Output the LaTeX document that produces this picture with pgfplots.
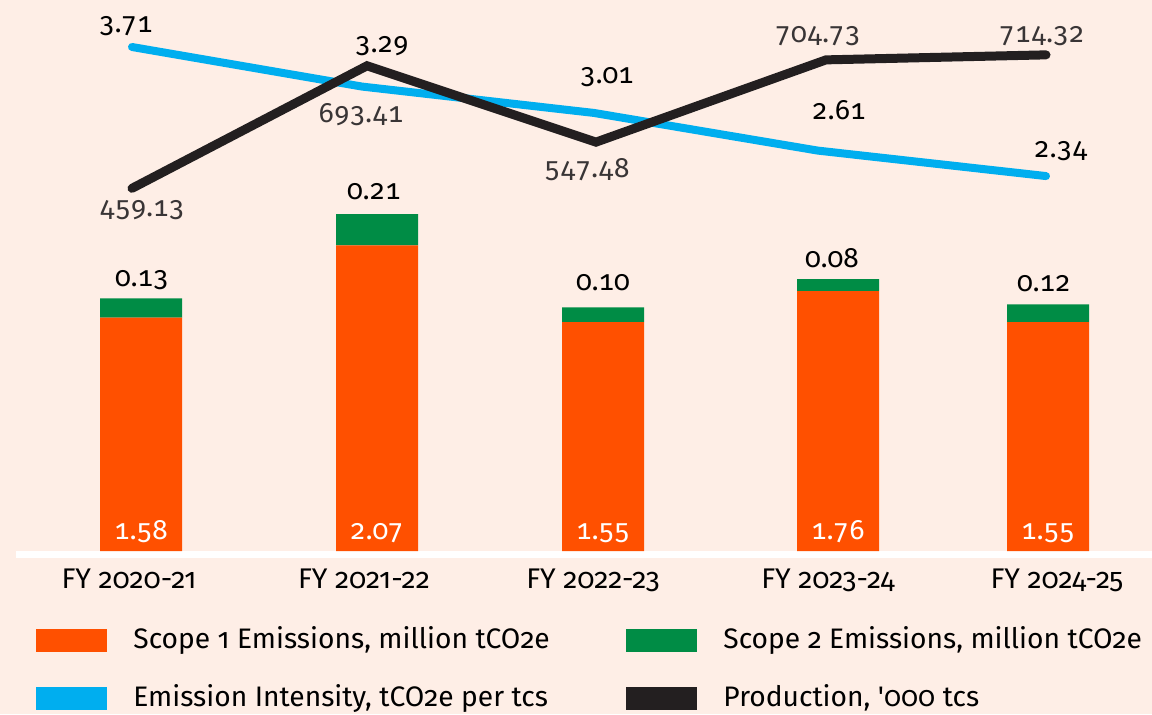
\documentclass[border=0pt]{standalone}
\usepackage{fontspec}
\setmainfont{Fira Sans}[Numbers=OldStyle]
\newfontfamily\tabnum{Fira Sans}[Numbers={OldStyle,Monospaced}]
\usepackage{pgfplots}
\pgfplotsset{compat=1.18}
\definecolor{bg}{HTML}{FEEEE6}
\definecolor{sone}{HTML}{FF5000}
\definecolor{stwo}{HTML}{008C45}
\definecolor{intens}{HTML}{00AEEF}
\definecolor{prod}{HTML}{231F20}
\newcommand\lab[4][black]{\node[anchor=base, text=#1, inner sep=0pt] at ({#2*0.5pt},{(714-#3)*0.5pt}) {#4};}
\pgfplotsset{base/.style={at={(0pt,81.5pt)}, anchor=south west, scale only axis,
  width=576pt, height=275.5pt, xmin=0, xmax=1152, hide axis, clip=false}}
\begin{document}
\begin{tikzpicture}
\useasboundingbox (0,0) rectangle (576pt,357pt);
\fill[bg] (0,0) rectangle (576pt,357pt);
\fill[white] (8pt,78pt) rectangle (576pt,81.5pt);
% bars
\begin{axis}[base, ymin=0, ymax=3.7305, ybar stacked, bar width=41pt]
\addplot[fill=sone, draw=none] coordinates {(141,1.58) (377,2.07) (603,1.55) (838,1.76) (1048,1.55)};
\addplot[fill=stwo, draw=none] coordinates {(141,0.13) (377,0.21) (603,0.10) (838,0.08) (1048,0.12)};
\end{axis}
% emission intensity
\begin{axis}[base, ymin=-1.640, ymax=4.209]
\addplot[intens, line width=4pt, line cap=round, line join=round] coordinates {(132,3.71) (362,3.29) (594,3.01) (818,2.61) (1046,2.34)};
\end{axis}
% production
\begin{axis}[base, ymin=-234.3, ymax=819.2]
\addplot[prod, line width=4.5pt, line cap=round, line join=miter] coordinates {(132,459.13) (367,693.41) (596,547.48) (826,704.73) (1046,714.32)};
\end{axis}
% data labels
\tabnum\fontsize{14pt}{16pt}\selectfont
\lab{126}{33}{3.71}
\lab{382}{53}{3.29}
\lab{607}{84}{3.01}
\lab{839}{119}{2.61}
\lab{1061}{157}{2.34}
\lab[prod!90!white]{142}{217}{459.13}
\lab[prod!90!white]{361}{123}{693.41}
\lab[prod!90!white]{587}{177}{547.48}
\lab[prod!90!white]{818}{43}{704.73}
\lab[prod!90!white]{1042}{43}{714.32}
\lab{142}{286}{0.13}
\lab{374}{199}{0.21}
\lab{603}{290}{0.10}
\lab{832}{267}{0.08}
\lab{1044}{291}{0.12}
\lab[white]{141}{539}{1.58}
\lab[white]{377}{539}{2.07}
\lab[white]{603}{539}{1.55}
\lab[white]{838}{539}{1.76}
\lab[white]{1048}{539}{1.55}
% x tick labels
\rmfamily\fontsize{14.2pt}{17pt}\selectfont
\lab{129}{588}{FY 2020-21}
\lab{364}{588}{FY 2021-22}
\lab{593}{588}{FY 2022-23}
\lab{828}{588}{FY 2023-24}
\lab{1057}{588}{FY 2024-25}
% legend
\fontsize{14.1pt}{16pt}\selectfont
\fill[sone] (18pt,{(714-652)*0.5pt}) rectangle (53.5pt,{(714-629)*0.5pt});
\fill[stwo] (313pt,{(714-652)*0.5pt}) rectangle (348.5pt,{(714-629)*0.5pt});
\fill[intens] (18pt,{(714-710)*0.5pt}) rectangle (53.5pt,{(714-687)*0.5pt});
\fill[prod] (313pt,{(714-710)*0.5pt}) rectangle (348.5pt,{(714-687)*0.5pt});
\node[anchor=base west, inner sep=0pt] at (66.5pt,{(714-648)*0.5pt}) {Scope 1 Emissions, million tCO2e};
\node[anchor=base west, inner sep=0pt] at (361.5pt,{(714-648)*0.5pt}) {Scope 2 Emissions, million tCO2e};
\node[anchor=base west, inner sep=0pt] at (66.5pt,{(714-706)*0.5pt}) {Emission Intensity, tCO2e per tcs};
\node[anchor=base west, inner sep=0pt] at (361.5pt,{(714-706)*0.5pt}) {Production, \textquotesingle 000 tcs};
\end{tikzpicture}
\end{document}
